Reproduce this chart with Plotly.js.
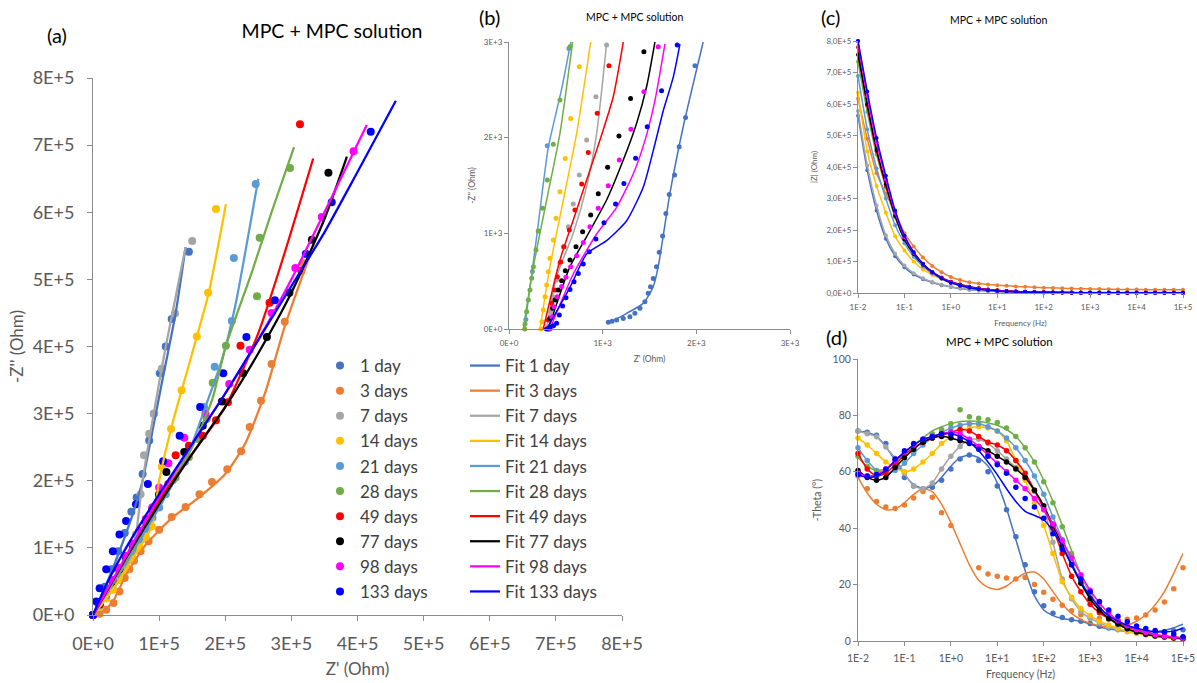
<!DOCTYPE html>
<html><head><meta charset="utf-8">
<script src="https://cdn.plot.ly/plotly-3.0.1.min.js"></script>
<style>html,body{margin:0;padding:0;background:#fff;}#chart{width:1197px;height:683px;}</style>
</head><body><div id="chart"></div>
<script>
const seriesNames = ['1 day','3 days','7 days','14 days','21 days','28 days','49 days','77 days','98 days','133 days'];
const seriesColors = ['#4472C4','#ED7D31','#A5A5A5','#FFC000','#5B9BD5','#70AD47','#FF0000','#000000','#FF00FF','#0000FF'];

// ---- Panel (a): Nyquist, values in kOhm ----
const aDataRe = [
 [0,8,18,28,38,48,58,66,75,85,92,101,110,119,145],
 [10,20,31,40,48,55,62,72,84,100,119,140,161,180,203,224,237,254,270,290,318],
 [0,10,20,30,40,50,58,65,72,77,85,92,104,124,150],
 [0,10,20,30,40,50,60,70,80,89,98,104,118,134,157,174,186],
 [0,10,20,30,40,50,60,70,80,90,100,110,121,139,168,184,210,213,246],
 [0,10,20,30,40,50,60,70,80,90,100,110,125,145,160,172,181,201,248,252,298],
 [0,10,20,30,40,50,60,70,80,90,100,114,125,145,166,186,204,223,267,315,313],
 [0,10,20,30,40,50,60,70,80,90,100,111,138,166,195,227,263,297,331,356],
 [0,10,20,30,40,50,60,70,80,90,100,114,138,170,206,237,270,306,346,394],
 [0,5,10,20,30,40,50,65,83,106,131,162,197,232,275,322,361,420]
];
const aDataIm = [
 [0,18,42,68,95,122,154,175,210,260,300,360,400,441,541],
 [2,8,18,35,55,68,81,95,110,127,146,161,180,198,217,244,280,319,374,437,524],
 [0,12,25,38,52,67,90,120,180,238,270,300,367,449,557],
 [0,12,25,38,52,67,84,100,116,132,170,221,277,335,415,480,605],
 [0,14,29,45,61,78,95,112,128,145,160,180,201,228,310,370,438,532,642],
 [0,15,31,47,64,82,100,118,136,154,170,186,205,235,262,292,346,401,475,562,666],
 [0,16,33,50,68,87,106,125,143,160,178,195,238,252,267,290,317,401,465,513,731],
 [0,16,32,50,68,86,104,122,140,158,180,213,243,282,318,360,414,480,559,659],
 [0,17,34,52,70,88,106,124,142,160,190,226,264,300,344,395,450,517,593,691],
 [0,20,40,68,95,120,140,165,195,229,267,310,360,414,469,538,615,720]
];
const aFitRe = [
 [0,20,40,60,75,90,105,125,140],
 [0,15,30,50,80,120,160,200,230,260,290,328],
 [0,30,55,65,75,90,110,140],
 [0,30,60,89,100,120,150,175,201],
 [0,50,100,140,170,195,215,250],
 [0,50,100,150,180,201,240,270,304],
 [0,50,100,150,200,250,290,333],
 [0,50,100,150,200,250,300,350,384],
 [0,50,100,150,200,250,300,350,414],
 [0,20,50,100,150,200,250,300,350,400,458]
];
const aFitIm = [
 [0,45,95,150,200,275,350,450,548],
 [0,5,20,60,105,145,175,210,255,330,430,536],
 [0,38,80,120,200,290,400,548],
 [0,38,84,132,200,285,390,480,612],
 [0,78,160,230,310,380,460,650],
 [0,82,170,250,320,401,510,600,697],
 [0,85,170,240,310,420,540,680],
 [0,85,165,240,310,390,480,590,683],
 [0,88,175,255,330,410,500,600,730],
 [0,45,100,180,255,330,410,490,570,660,766]
];

// ---- Panel (b): high-frequency Nyquist zoom, values in Ohm ----
const bDataRe = [
 [1060,1100,1149,1220,1291,1344,1398,1451,1486,1511,1540,1575,1604,1640,1675,1711,1768,1817,1885,1985],
 [],
 [420,444,473,508,544,580,633,686,750,829,928,1042],
 [341,352,366,384,402,420,437,473,501,544,601,658,750],
 [180,250,313,409,640],
 [168,171,188,206,224,242,260,288,313,359,409,473,544,651],
 [420,455,491,516,551,587,644,704,776,846,942,1067],
 [420,437,466,491,526,562,601,651,715,786,872,953,1053,1174,1298,1440],
 [437,455,480,516,562,608,658,722,793,864,953,1060,1177,1302,1440,1593],
 [400,440,475,508,537,572,608,651,694,740,793,857,928,1014,1138,1227,1352,1476,1629,1796]
];
const bDataIm = [
 [70,80,94,111,129,164,216,286,373,442,529,651,801,971,1208,1407,1609,1905,2210,2752],
 [],
 [24,181,338,512,686,860,1069,1306,1609,1975,2428,2968],
 [0,77,199,338,460,599,739,930,1157,1435,1783,2201,2741],
 [100,600,1024,1916,2933],
 [0,52,181,303,408,530,651,826,1024,1261,1557,1930,2393,2950],
 [94,268,408,547,700,860,1034,1243,1515,1846,2254,2752],
 [0,111,216,303,408,505,610,721,860,1017,1192,1413,1690,2017,2410,2898],
 [0,129,233,338,443,540,651,766,905,1069,1261,1498,1766,2087,2480,2950],
 [0,15,35,59,146,240,327,414,494,581,679,808,941,1111,1306,1522,1784,2114,2490,2968]
];
const bFitRe = [
 [1060,1256,1433,1540,1593,1718,1860,2073],
 [],
 [400,508,686,829,936,1042],
 [331,437,580,722,872],
 [165,300,420,560,660],
 [153,260,402,544,679],
 [366,544,686,829,971,1113,1220],
 [420,651,829,1042,1220,1362,1469,1558],
 [437,686,936,1149,1326,1451,1558,1665],
 [402,651,829,1042,1256,1433,1540,1647,1753,1825]
];
const bFitIm = [
 [59,164,268,442,651,1418,2114,3000],
 [],
 [0,547,1000,1488,2044,2985],
 [0,651,1348,2044,3000],
 [0,1000,1900,2500,3000],
 [0,651,1348,2044,3000],
 [0,721,1139,1557,1975,2428,3000],
 [0,651,965,1348,1766,2149,2532,3000],
 [0,575,993,1272,1620,1969,2387,2980],
 [0,435,784,923,1132,1481,1864,2282,2630,2978]
];

// ---- Panels (c) and (d): Bode, shared frequencies (Hz) ----
const freqHz = [0.01,0.0158,0.0251,0.0398,0.0631,0.1,0.158,0.251,0.398,0.631,1,1.58,2.51,3.98,6.31,10,15.8,25.1,39.8,63.1,100,158,251,398,631,1000,1580,2510,3980,6310,10000,15800,25100,39800,63100,100000];

// |Z| in kOhm
const modZ1d  = [563,390,262,172,117,82,59,44,33,25,19,14,10.5,8,6,4.6,3.6,2.9,2.4,2.1,1.9,1.8,1.7,1.6,1.6,1.5,1.5,1.5,1.5,1.5,1.5,1.5,1.5,1.5,1.5,1.5];
const modZ3d  = [617,490,380,315,255,190,148,113,86,66,51,41,34,30,27,25,23,21,19.5,18,17,16,15,14,13.5,13,12.5,12,11.5,11,11,10.5,10,10,10,10];
const modZ7d  = [578,405,278,183,125,87,63,47,35,26,20,15,11.5,9,7,5.5,4.3,3.4,2.8,2.3,1.9,1.6,1.4,1.2,1.1,1,0.9,0.8,0.8,0.7,0.7,0.7,0.7,0.7,0.7,0.7];
const modZ14d = [636,450,340,255,180,135,100,75,58,45,34,25,18,13,10,7.5,5.8,4.5,3.6,2.9,2.3,1.8,1.4,1.1,0.9,0.7,0.6,0.5,0.5,0.4,0.4,0.4,0.4,0.4,0.4,0.4];
const modZ21d = [689,520,395,300,215,158,115,84,62,46,34,25,19,14,10.5,8,6,4.7,3.7,3,2.4,1.9,1.5,1.2,0.9,0.7,0.6,0.5,0.5,0.4,0.4,0.4,0.4,0.4,0.4,0.4];
const modZ28d = [734,575,440,335,240,172,126,92,67,49,36,27,20,15,11,8.3,6.3,4.8,3.7,2.9,2.3,1.8,1.4,1.1,0.9,0.7,0.5,0.4,0.3,0.3,0.2,0.2,0.2,0.2,0.2,0.2];
const modZ49d = [780,595,450,340,245,173,126,92,67,49,36,27,20,15,11,8.4,6.4,4.9,3.8,3,2.4,1.9,1.5,1.2,1,0.8,0.6,0.5,0.45,0.42,0.4,0.4,0.4,0.4,0.4,0.4];
const modZ77d = [756,600,455,345,245,170,124,90,66,48,35,26,19,14,10.5,8,6.2,4.8,3.7,2.9,2.3,1.8,1.4,1.1,0.9,0.7,0.6,0.5,0.45,0.42,0.4,0.4,0.4,0.4,0.4,0.4];
const modZ98d = [800,625,478,360,255,178,128,92,66,47,34,25,18.5,13.5,10,7.5,5.7,4.4,3.4,2.7,2.1,1.7,1.3,1,0.8,0.7,0.6,0.5,0.45,0.42,0.4,0.4,0.4,0.4,0.4,0.4];
const modZ133d= [800,640,492,372,262,182,130,93,66,46,32,23,16.5,12,8.7,6.4,4.9,3.8,3,2.4,1.9,1.5,1.2,1,0.8,0.7,0.6,0.5,0.45,0.42,0.4,0.4,0.4,0.4,0.4,0.4];
const modZ = [modZ1d,modZ3d,modZ7d,modZ14d,modZ21d,modZ28d,modZ49d,modZ77d,modZ98d,modZ133d];

// -Theta in degrees (measured)
const theta1d  = [74.5,74,73,70,64,58,55,54,54.5,57,61,64.5,66,64,60,55,46.5,37,27,17.5,12.5,9.8,8.3,7.5,7,6.2,5.2,4.6,4.1,3.7,3.3,3.2,3.2,3.3,3.6,4];
const theta3d  = [58.5,54,49.5,47.5,47,48.2,50.7,53,51,45.5,41,null,null,26,23.8,23,22.3,22,22.5,20,17.3,14.8,12.7,10.7,9.3,8.5,8,7.6,7.4,7.7,8.2,9.2,11,13.8,18.5,26];
const theta7d  = [74.5,73.5,72.4,68.8,64.8,59.5,55,54,56,61,65.5,69,71.5,71.5,70,67.5,64.5,61.5,58,53,47,35,22,15,10.5,8,6.5,5,4,3.3,2.8,2.3,2,1.7,1.5,1.3];
const theta14d = [72,69.5,66.5,63.5,61.5,60,61,63.5,66.5,70,72.5,74.5,75.5,76,75.5,74.5,71,64,57,49,41,31,21,15.5,11.5,9,7,5.7,4.5,3.5,2.7,2.1,1.6,1.2,0.9,0.6];
const theta21d = [68.5,64,60.5,59.5,60.5,63,66.5,69.5,72,74,75.5,76.5,77,77,76,74.5,72,68.5,64,58.5,52,44,36,28,21,15,11,8,5.8,4.3,3.2,2.5,1.9,1.5,1.2,1];
const theta28d = [65.5,62,60,60.5,63,66,69,71.5,73.5,75,77,82,79.5,79,78.5,77.5,75.5,72.5,68.5,63.5,56.5,49,40.5,31,23,16.5,12,8.5,6,4.5,3.4,2.6,2,1.6,1.3,1];
const theta49d = [66.5,61,58.5,59.5,62.5,66,68.5,70.5,72,73,74,75,74.5,72.5,70.5,69.5,67.5,64,59.5,53.5,47,40,31,23,17.5,13,10,8,6.5,5,4,3,2.3,1.8,1.4,1];
const theta77d = [60.5,58,57,58,61.5,65,68,70.5,72,72.5,72,71,70,69,67.5,65.5,63.5,61,58,53.5,48,41,34,27,20.5,15,11,8,6,4.3,3.2,2.4,1.8,1.4,1.1,0.8];
const theta98d = [59.5,58.5,59,61,64,67,69.5,71.5,72.5,73.5,74,73.5,71.5,69,66,63,60,57,54,50.5,46.5,41.5,35.5,29.5,23.5,18,13.5,10,7.3,5.4,4,3,2.2,1.7,1.3,1];
const theta133d= [59,58.5,59,61,64.5,67.5,70,71.5,72.5,73.5,73.3,72,70.3,68,65.5,62.5,59.5,54.5,50.5,47.5,43.5,38,32.5,27,22,17.5,14,11,8.8,6.8,5.3,4.4,3.7,3.2,2.5,1.5];
const thetaData = [theta1d,theta3d,theta7d,theta14d,theta21d,theta28d,theta49d,theta77d,theta98d,theta133d];

// -Theta fitted curves that separate visibly from the measurements (others follow the data)
const thetaFit1d  = [74.5,74,72.5,69,64,59,55.5,54,55,58,62,65,66,65,62,56,47,36,25,16,11,9,8,7.5,7,6,5,4.3,3.8,3.4,3.2,3.1,3.3,3.8,4.7,6];
const thetaFit3d  = [58,52.5,48.5,46.5,46.8,49,52,54,53,48.5,42,34.5,27,21.5,19,18.3,19.5,22,24,24.5,22,17.5,13,9.8,7.6,6.3,5.4,5,5,5.6,7,9.3,12.8,17.5,24,31];
const thetaFit28d = [65,62,60.5,61,63.5,66.5,69.5,72,74.5,76,77,77.8,78,77.8,77.3,76.5,75,72.5,68.5,63.5,57,49.5,41,32,23.5,17,12,8.5,6,4.5,3.4,2.6,2,1.6,1.3,1];
const thetaFit133d= [59,58,58.5,60.5,64,67,69.5,71.5,72.5,73.5,73.5,72.5,70.5,67.5,63.5,59,54,49.5,46,44.5,43,39,33.5,27,21,16,12,9,7,5.5,4.5,3.8,3.3,3.2,3.5,4.5];
const thetaFit = [thetaFit1d,thetaFit3d,theta7d,theta14d,theta21d,thetaFit28d,theta49d,theta77d,theta98d,thetaFit133d];

const aTicks = ['0E+0','1E+5','2E+5','3E+5','4E+5','5E+5','6E+5','7E+5','8E+5'];
const bTicks = ['0E+0','1E+3','2E+3','3E+3'];
const cYTicks = ['0,0E+0','1,0E+5','2,0E+5','3,0E+5','4,0E+5','5,0E+5','6,0E+5','7,0E+5','8,0E+5'];
const freqTicks = ['1E-2','1E-1','1E+0','1E+1','1E+2','1E+3','1E+4','1E+5'];
const dYTicks = ['0','20','40','60','80','100'];

const FONT = 'Lato, "Open Sans", sans-serif';
const kOhm = v => v == null ? null : v * 1000;
const traces = [];

seriesNames.forEach((n,i) => traces.push({
  type:'scatter', mode:'markers', name:n, legend:'legend',
  x:aDataRe[i].map(kOhm), y:aDataIm[i].map(kOhm), xaxis:'x', yaxis:'y',
  marker:{color:seriesColors[i], size:8}, cliponaxis:false
}));
seriesNames.forEach((n,i) => traces.push({
  type:'scatter', mode:'lines', name:'Fit '+n, legend:'legend2',
  x:aFitRe[i].map(kOhm), y:aFitIm[i].map(kOhm), xaxis:'x', yaxis:'y',
  line:{color:seriesColors[i], width:2.25, shape:'spline', smoothing:0.6}, cliponaxis:false
}));
seriesNames.forEach((n,i) => {
  if (!bDataRe[i].length) return;
  traces.push({type:'scatter', mode:'lines', showlegend:false, x:bFitRe[i], y:bFitIm[i], xaxis:'x2', yaxis:'y2',
    line:{color:seriesColors[i], width:1.5, shape:'spline', smoothing:0.6}, cliponaxis:false});
  traces.push({type:'scatter', mode:'markers', showlegend:false, x:bDataRe[i], y:bDataIm[i], xaxis:'x2', yaxis:'y2',
    marker:{color:seriesColors[i], size:5}, cliponaxis:false});
});
seriesNames.forEach((n,i) => traces.push({
  type:'scatter', mode:'lines+markers', showlegend:false, x:freqHz, y:modZ[i].map(kOhm), xaxis:'x3', yaxis:'y3',
  line:{color:seriesColors[i], width:1.5, shape:'spline', smoothing:0.5}, marker:{color:seriesColors[i], size:4}, cliponaxis:false
}));
seriesNames.forEach((n,i) => {
  traces.push({type:'scatter', mode:'lines', showlegend:false, x:freqHz, y:thetaFit[i], xaxis:'x4', yaxis:'y4', connectgaps:true,
    line:{color:seriesColors[i], width:1.5, shape:'spline', smoothing:0.6}, cliponaxis:false});
  traces.push({type:'scatter', mode:'markers', showlegend:false, x:freqHz, y:thetaData[i], xaxis:'x4', yaxis:'y4',
    marker:{color:seriesColors[i], size:5.5}, cliponaxis:false});
});

const W = 1197, H = 683;
const px = v => v / W, py = v => 1 - v / H;
const axisBase = (fs) => ({showgrid:false, zeroline:false, showline:true, linecolor:'#8c8c8c', linewidth:1,
  ticks:'outside', ticklen:4, tickcolor:'#8c8c8c', tickfont:{family:FONT, size:fs, color:'#595959'}, automargin:false});

const layout = {
  width:W, height:H, margin:{l:0,r:0,t:0,b:0}, paper_bgcolor:'#fff', plot_bgcolor:'rgba(0,0,0,0)',
  font:{family:FONT, color:'#404040'}, showlegend:true,
  title:{text:'MPC + MPC solution', x:px(332), y:py(31), xanchor:'center', yanchor:'middle', font:{family:FONT, size:19.5, color:'#000'}},
  xaxis:Object.assign(axisBase(18), {domain:[px(93),px(622)], range:[0,800000], anchor:'y', tickmode:'array',
    tickvals:[0,1e5,2e5,3e5,4e5,5e5,6e5,7e5,8e5], ticktext:aTicks, ticklen:5, ticklabelstandoff:7,
    title:{text:"Z' (Ohm)", font:{family:FONT, size:17, color:'#595959'}, standoff:10}}),
  yaxis:Object.assign(axisBase(18), {domain:[py(615),py(78)], range:[0,800000], anchor:'x', tickmode:'array',
    tickvals:[0,1e5,2e5,3e5,4e5,5e5,6e5,7e5,8e5], ticktext:aTicks, ticklen:5, ticklabelstandoff:9,
    title:{text:"-Z'' (Ohm)", font:{family:FONT, size:17, color:'#595959'}, standoff:4}}),
  xaxis2:Object.assign(axisBase(8), {domain:[px(509),px(790)], range:[0,3000], anchor:'y2', tickmode:'array',
    tickvals:[0,1000,2000,3000], ticktext:bTicks, ticklabelstandoff:2,
    title:{text:"Z' (Ohm)", font:{family:FONT, size:8.5, color:'#595959'}, standoff:9}}),
  yaxis2:Object.assign(axisBase(8), {domain:[py(329),py(42)], range:[0,3000], anchor:'x2', tickmode:'array',
    tickvals:[0,1000,2000,3000], ticktext:bTicks,
    title:{text:"-Z'' (Ohm)", font:{family:FONT, size:8.5, color:'#595959'}, standoff:6}}),
  xaxis3:Object.assign(axisBase(8), {domain:[px(858),px(1183)], type:'log', range:[-2,5], anchor:'y3', tickmode:'array',
    tickvals:[0.01,0.1,1,10,100,1000,10000,100000], ticktext:freqTicks, ticklabelstandoff:2,
    title:{text:'Frequency (Hz)', font:{family:FONT, size:8, color:'#595959'}, standoff:9}}),
  yaxis3:Object.assign(axisBase(8), {domain:[py(293),py(41)], range:[0,800000], anchor:'x3', tickmode:'array',
    tickvals:[0,1e5,2e5,3e5,4e5,5e5,6e5,7e5,8e5], ticktext:cYTicks,
    title:{text:'|Z| (Ohm)', font:{family:FONT, size:8, color:'#595959'}, standoff:7}}),
  xaxis4:Object.assign(axisBase(10.5), {domain:[px(858),px(1183)], type:'log', range:[-2,5], anchor:'y4', tickmode:'array',
    tickvals:[0.01,0.1,1,10,100,1000,10000,100000], ticktext:freqTicks, ticklabelstandoff:3,
    title:{text:'Frequency (Hz)', font:{family:FONT, size:10.5, color:'#595959'}, standoff:8}}),
  yaxis4:Object.assign(axisBase(10.5), {domain:[py(641),py(359)], range:[0,100], anchor:'x4', tickmode:'array',
    tickvals:[0,20,40,60,80,100], ticktext:dYTicks,
    title:{text:'-Theta (°)', font:{family:FONT, size:10.5, color:'#595959'}, standoff:8}}),
  legend:{x:px(320), y:py(348), xanchor:'left', yanchor:'top', bgcolor:'rgba(0,0,0,0)',
    font:{family:FONT, size:17, color:'#404040'}, tracegroupgap:0},
  legend2:{x:px(465), y:py(348), xanchor:'left', yanchor:'top', bgcolor:'rgba(0,0,0,0)',
    font:{family:FONT, size:17, color:'#404040'}, tracegroupgap:0},
  annotations:[
    {text:'(a)', x:px(57), y:py(35), xref:'paper', yref:'paper', showarrow:false, xanchor:'center', yanchor:'middle', font:{family:FONT, size:20, color:'#000'}},
    {text:'(b)', x:px(489), y:py(17), xref:'paper', yref:'paper', showarrow:false, xanchor:'center', yanchor:'middle', font:{family:FONT, size:20, color:'#000'}},
    {text:'(c)', x:px(830), y:py(17), xref:'paper', yref:'paper', showarrow:false, xanchor:'center', yanchor:'middle', font:{family:FONT, size:20, color:'#000'}},
    {text:'(d)', x:px(836), y:py(337), xref:'paper', yref:'paper', showarrow:false, xanchor:'center', yanchor:'middle', font:{family:FONT, size:20, color:'#000'}},
    {text:'MPC + MPC solution', x:px(635), y:py(17), xref:'paper', yref:'paper', showarrow:false, xanchor:'center', yanchor:'middle', font:{family:FONT, size:10.5, color:'#000'}},
    {text:'MPC + MPC solution', x:px(999), y:py(20), xref:'paper', yref:'paper', showarrow:false, xanchor:'center', yanchor:'middle', font:{family:FONT, size:10.5, color:'#000'}},
    {text:'MPC + MPC solution', x:px(999), y:py(341), xref:'paper', yref:'paper', showarrow:false, xanchor:'center', yanchor:'middle', font:{family:FONT, size:11.5, color:'#000'}}
  ]
};

Plotly.newPlot('chart', traces, layout, {displayModeBar:false, staticPlot:true});
</script>
</body></html>
